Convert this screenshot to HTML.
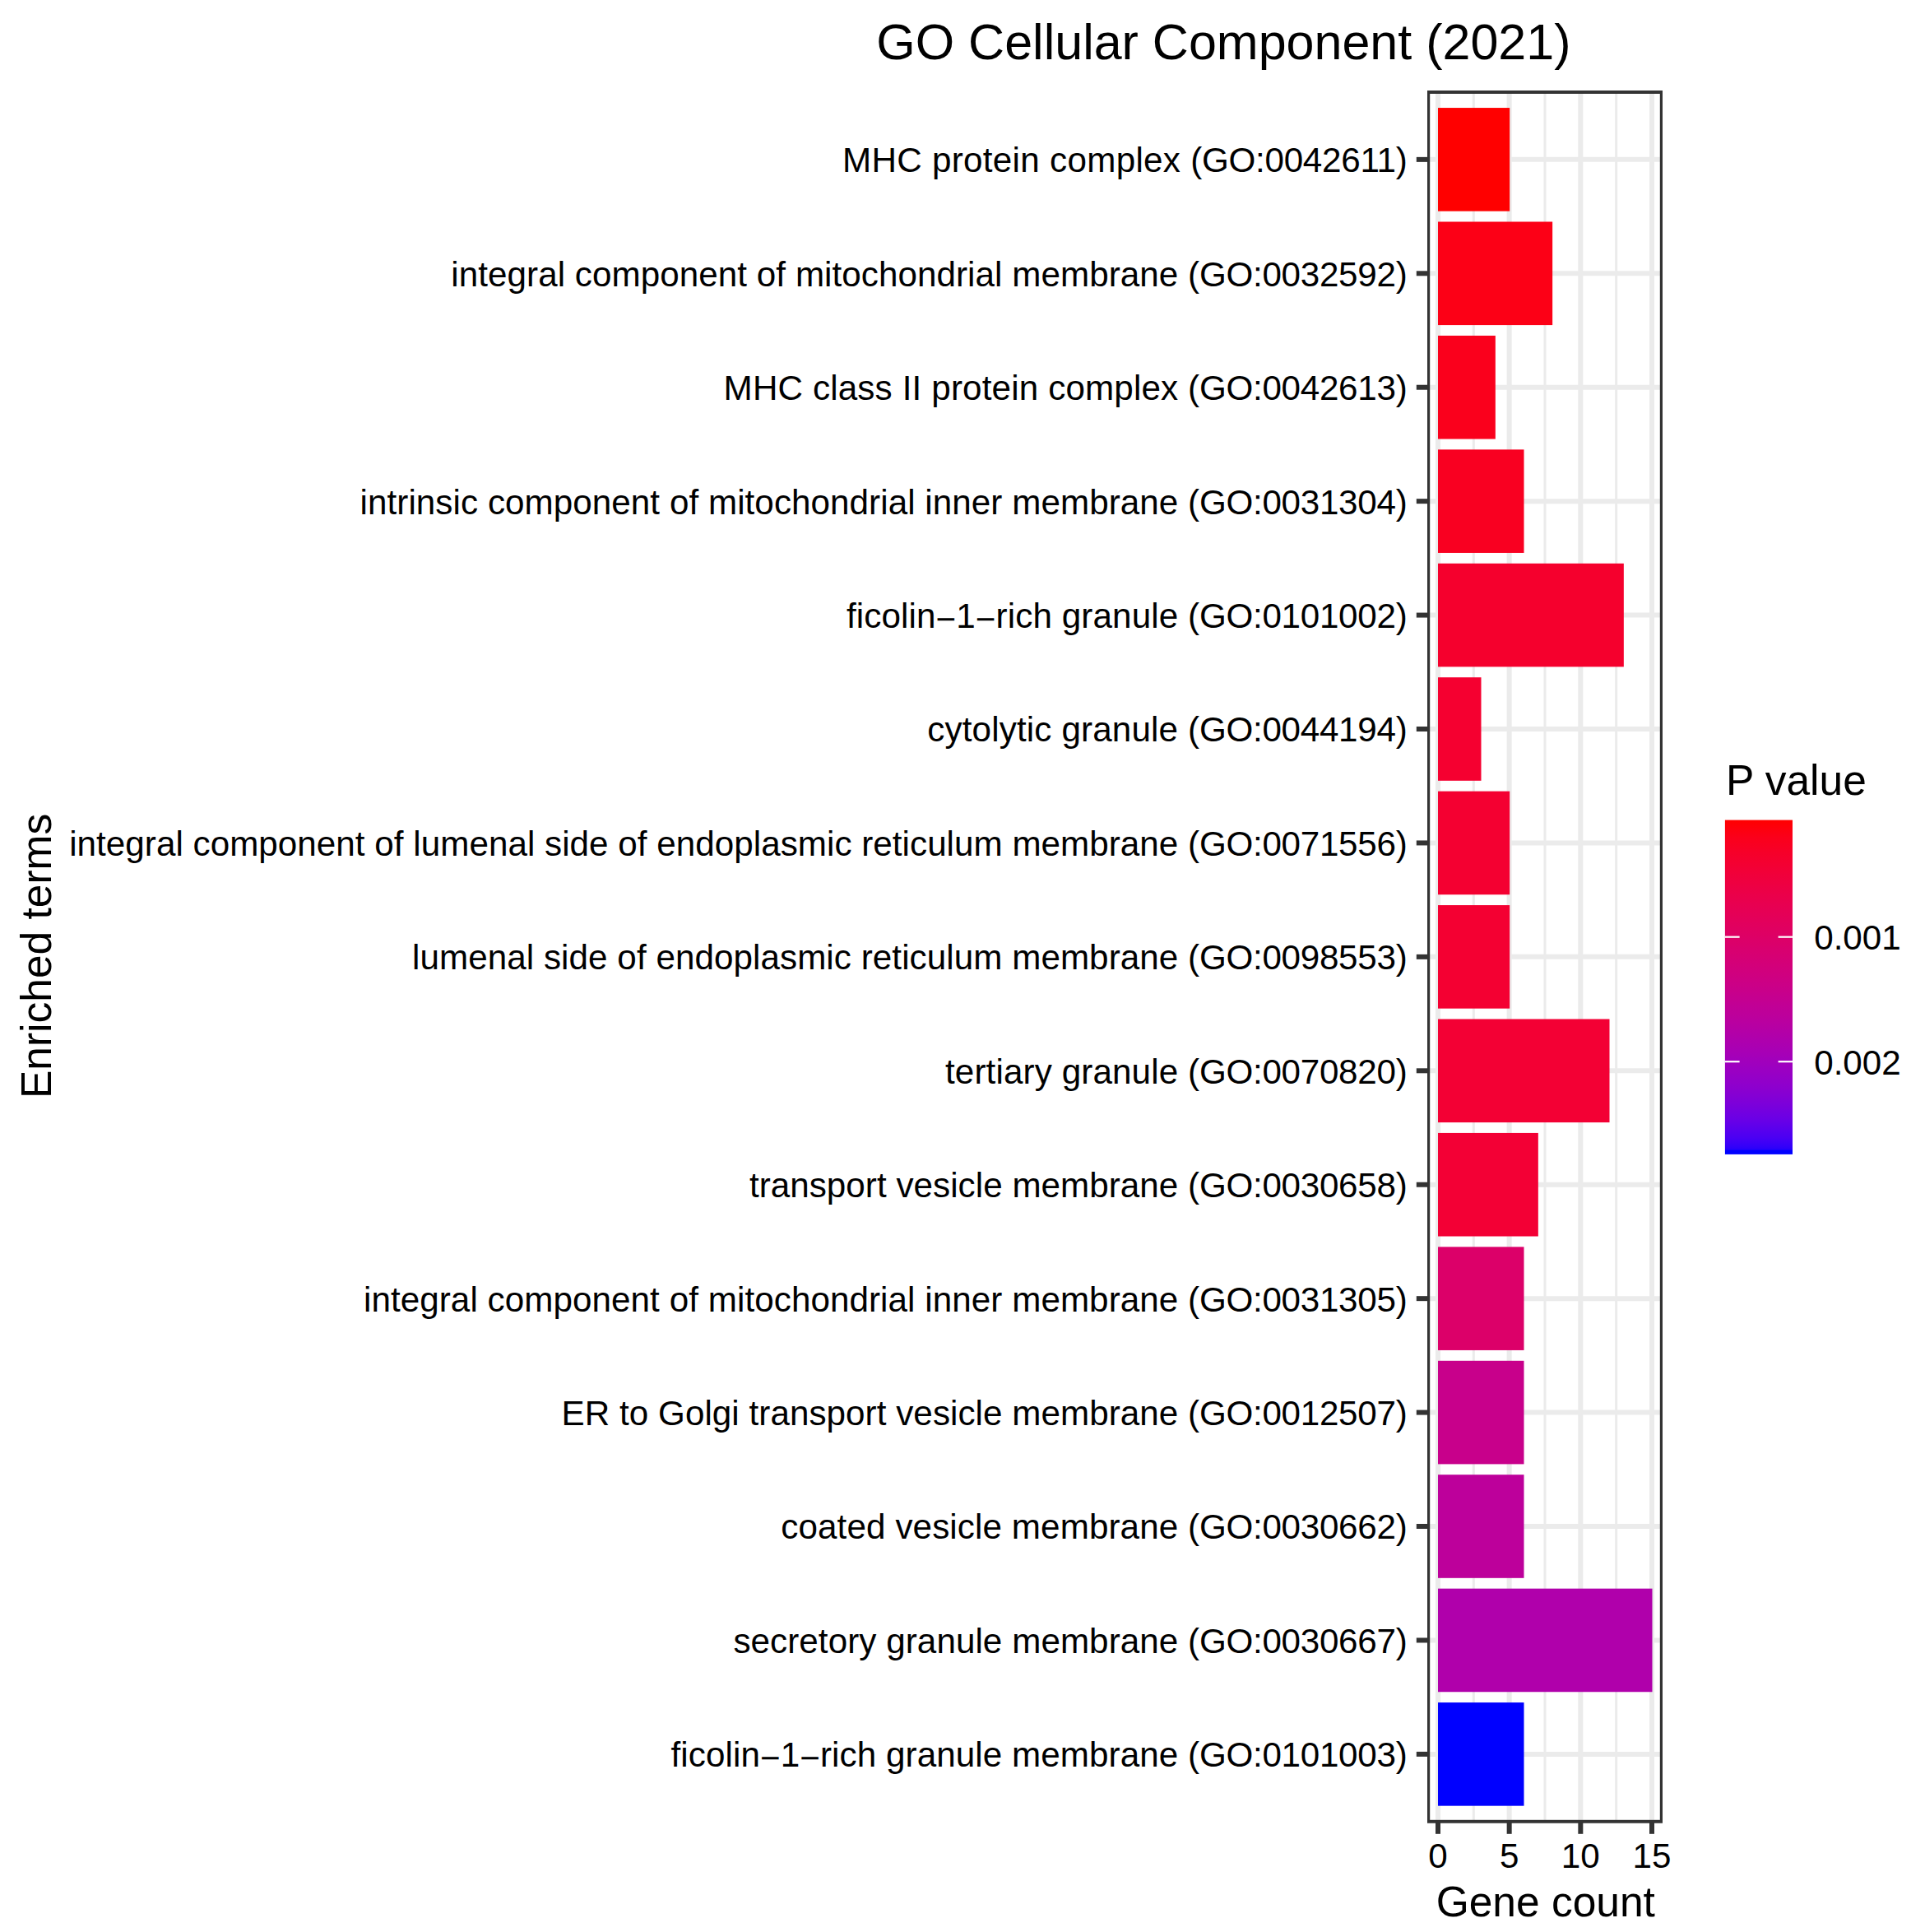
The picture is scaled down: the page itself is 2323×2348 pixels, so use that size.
<!DOCTYPE html>
<html lang="en"><head><meta charset="utf-8"><title>GO Cellular Component (2021)</title>
<style>html,body{margin:0;padding:0;background:#fff}body{width:2323px;height:2348px;overflow:hidden}svg{display:block}text{font-family:"Liberation Sans",Arial,Helvetica,sans-serif;fill:#000}.ax{font-size:42.20px;fill:#000}.tt{font-size:51.50px}.ti{font-size:61.00px}</style></head><body>
<svg width="2323" height="2348" viewBox="0 0 2323 2348">
<rect x="0" y="0" width="2323" height="2348" fill="#fff"/>
<defs><clipPath id="pc"><rect x="1735.00" y="110" width="286.00" height="2105.8"/></clipPath><linearGradient id="cb" x1="0" y1="0" x2="0" y2="1">
<stop offset="0.00" stop-color="#FF0000"/>
<stop offset="0.05" stop-color="#FB001A"/>
<stop offset="0.10" stop-color="#F6002A"/>
<stop offset="0.15" stop-color="#F20037"/>
<stop offset="0.20" stop-color="#ED0044"/>
<stop offset="0.25" stop-color="#E80050"/>
<stop offset="0.30" stop-color="#E3005B"/>
<stop offset="0.35" stop-color="#DD0066"/>
<stop offset="0.40" stop-color="#D70072"/>
<stop offset="0.45" stop-color="#D1007D"/>
<stop offset="0.50" stop-color="#CA0088"/>
<stop offset="0.55" stop-color="#C20094"/>
<stop offset="0.60" stop-color="#BA009F"/>
<stop offset="0.65" stop-color="#B000AB"/>
<stop offset="0.70" stop-color="#A600B7"/>
<stop offset="0.75" stop-color="#9A00C3"/>
<stop offset="0.80" stop-color="#8D00CE"/>
<stop offset="0.85" stop-color="#7C00DA"/>
<stop offset="0.90" stop-color="#6800E7"/>
<stop offset="0.95" stop-color="#4B00F3"/>
<stop offset="0.975" stop-color="#3500F9"/>
<stop offset="0.985" stop-color="#2800FB"/>
<stop offset="0.989" stop-color="#0000FF"/>
<stop offset="1" stop-color="#0000FF"/>
</linearGradient></defs>
<g clip-path="url(#pc)">
<line x1="1791.33" y1="110.80" x2="1791.33" y2="2215.00" stroke="#ebebeb" stroke-width="3.00"/>
<line x1="1878.00" y1="110.80" x2="1878.00" y2="2215.00" stroke="#ebebeb" stroke-width="3.00"/>
<line x1="1964.66" y1="110.80" x2="1964.66" y2="2215.00" stroke="#ebebeb" stroke-width="3.00"/>
<line x1="1748.00" y1="110.80" x2="1748.00" y2="2215.00" stroke="#ebebeb" stroke-width="6.00"/>
<line x1="1834.66" y1="110.80" x2="1834.66" y2="2215.00" stroke="#ebebeb" stroke-width="6.00"/>
<line x1="1921.33" y1="110.80" x2="1921.33" y2="2215.00" stroke="#ebebeb" stroke-width="6.00"/>
<line x1="2007.99" y1="110.80" x2="2007.99" y2="2215.00" stroke="#ebebeb" stroke-width="6.00"/>
<line x1="1735.00" y1="193.86" x2="2021.00" y2="193.86" stroke="#ebebeb" stroke-width="6.00"/>
<line x1="1735.00" y1="332.29" x2="2021.00" y2="332.29" stroke="#ebebeb" stroke-width="6.00"/>
<line x1="1735.00" y1="470.72" x2="2021.00" y2="470.72" stroke="#ebebeb" stroke-width="6.00"/>
<line x1="1735.00" y1="609.15" x2="2021.00" y2="609.15" stroke="#ebebeb" stroke-width="6.00"/>
<line x1="1735.00" y1="747.58" x2="2021.00" y2="747.58" stroke="#ebebeb" stroke-width="6.00"/>
<line x1="1735.00" y1="886.01" x2="2021.00" y2="886.01" stroke="#ebebeb" stroke-width="6.00"/>
<line x1="1735.00" y1="1024.44" x2="2021.00" y2="1024.44" stroke="#ebebeb" stroke-width="6.00"/>
<line x1="1735.00" y1="1162.87" x2="2021.00" y2="1162.87" stroke="#ebebeb" stroke-width="6.00"/>
<line x1="1735.00" y1="1301.30" x2="2021.00" y2="1301.30" stroke="#ebebeb" stroke-width="6.00"/>
<line x1="1735.00" y1="1439.73" x2="2021.00" y2="1439.73" stroke="#ebebeb" stroke-width="6.00"/>
<line x1="1735.00" y1="1578.16" x2="2021.00" y2="1578.16" stroke="#ebebeb" stroke-width="6.00"/>
<line x1="1735.00" y1="1716.59" x2="2021.00" y2="1716.59" stroke="#ebebeb" stroke-width="6.00"/>
<line x1="1735.00" y1="1855.02" x2="2021.00" y2="1855.02" stroke="#ebebeb" stroke-width="6.00"/>
<line x1="1735.00" y1="1993.45" x2="2021.00" y2="1993.45" stroke="#ebebeb" stroke-width="6.00"/>
<line x1="1735.00" y1="2131.88" x2="2021.00" y2="2131.88" stroke="#ebebeb" stroke-width="6.00"/>
<rect x="1748.00" y="131.06" width="87.16" height="125.60" fill="#FF0000"/>
<rect x="1748.00" y="269.49" width="139.16" height="125.60" fill="#FC0016"/>
<rect x="1748.00" y="407.92" width="69.83" height="125.60" fill="#FA001C"/>
<rect x="1748.00" y="546.35" width="104.50" height="125.60" fill="#F90021"/>
<rect x="1748.00" y="684.78" width="225.83" height="125.60" fill="#F5002D"/>
<rect x="1748.00" y="823.21" width="52.50" height="125.60" fill="#F50030"/>
<rect x="1748.00" y="961.64" width="87.16" height="125.60" fill="#F40031"/>
<rect x="1748.00" y="1100.07" width="87.16" height="125.60" fill="#F40032"/>
<rect x="1748.00" y="1238.50" width="208.50" height="125.60" fill="#F30034"/>
<rect x="1748.00" y="1376.93" width="121.83" height="125.60" fill="#F30035"/>
<rect x="1748.00" y="1515.36" width="104.50" height="125.60" fill="#DC0069"/>
<rect x="1748.00" y="1653.79" width="104.50" height="125.60" fill="#C8008B"/>
<rect x="1748.00" y="1792.22" width="104.50" height="125.60" fill="#BD009B"/>
<rect x="1748.00" y="1930.65" width="260.50" height="125.60" fill="#B000AB"/>
<rect x="1748.00" y="2069.08" width="104.50" height="125.60" fill="#0000FF"/>
<rect x="1735.00" y="110.80" width="286.00" height="2104.20" fill="none" stroke="#333" stroke-width="6.40"/>
</g>
<line x1="1721.80" y1="193.86" x2="1735.00" y2="193.86" stroke="#333" stroke-width="6.00"/>
<line x1="1721.80" y1="332.29" x2="1735.00" y2="332.29" stroke="#333" stroke-width="6.00"/>
<line x1="1721.80" y1="470.72" x2="1735.00" y2="470.72" stroke="#333" stroke-width="6.00"/>
<line x1="1721.80" y1="609.15" x2="1735.00" y2="609.15" stroke="#333" stroke-width="6.00"/>
<line x1="1721.80" y1="747.58" x2="1735.00" y2="747.58" stroke="#333" stroke-width="6.00"/>
<line x1="1721.80" y1="886.01" x2="1735.00" y2="886.01" stroke="#333" stroke-width="6.00"/>
<line x1="1721.80" y1="1024.44" x2="1735.00" y2="1024.44" stroke="#333" stroke-width="6.00"/>
<line x1="1721.80" y1="1162.87" x2="1735.00" y2="1162.87" stroke="#333" stroke-width="6.00"/>
<line x1="1721.80" y1="1301.30" x2="1735.00" y2="1301.30" stroke="#333" stroke-width="6.00"/>
<line x1="1721.80" y1="1439.73" x2="1735.00" y2="1439.73" stroke="#333" stroke-width="6.00"/>
<line x1="1721.80" y1="1578.16" x2="1735.00" y2="1578.16" stroke="#333" stroke-width="6.00"/>
<line x1="1721.80" y1="1716.59" x2="1735.00" y2="1716.59" stroke="#333" stroke-width="6.00"/>
<line x1="1721.80" y1="1855.02" x2="1735.00" y2="1855.02" stroke="#333" stroke-width="6.00"/>
<line x1="1721.80" y1="1993.45" x2="1735.00" y2="1993.45" stroke="#333" stroke-width="6.00"/>
<line x1="1721.80" y1="2131.88" x2="1735.00" y2="2131.88" stroke="#333" stroke-width="6.00"/>
<line x1="1748.00" y1="2215.00" x2="1748.00" y2="2228.80" stroke="#333" stroke-width="6.00"/>
<line x1="1834.66" y1="2215.00" x2="1834.66" y2="2228.80" stroke="#333" stroke-width="6.00"/>
<line x1="1921.33" y1="2215.00" x2="1921.33" y2="2228.80" stroke="#333" stroke-width="6.00"/>
<line x1="2007.99" y1="2215.00" x2="2007.99" y2="2228.80" stroke="#333" stroke-width="6.00"/>
<text class="ax" x="1710.42" y="209.26" text-anchor="end"><tspan style="letter-spacing:0.295px">MHC protein complex </tspan><tspan style="letter-spacing:-0.283px">(GO:0042611)</tspan></text>
<text class="ax" x="1710.42" y="347.69" text-anchor="end"><tspan style="letter-spacing:0.053px">integral component of mitochondrial membrane </tspan><tspan style="letter-spacing:-0.283px">(GO:0032592)</tspan></text>
<text class="ax" x="1710.42" y="486.12" text-anchor="end"><tspan style="letter-spacing:0.144px">MHC class II protein complex </tspan><tspan style="letter-spacing:-0.283px">(GO:0042613)</tspan></text>
<text class="ax" x="1710.42" y="624.55" text-anchor="end"><tspan style="letter-spacing:0.056px">intrinsic component of mitochondrial inner membrane </tspan><tspan style="letter-spacing:-0.283px">(GO:0031304)</tspan></text>
<text class="ax" x="1710.42" y="762.98" text-anchor="end"><tspan style="letter-spacing:0.107px">ficolin<tspan dy="4.1">−</tspan><tspan dy="-4.1">1</tspan><tspan dy="4.1">−</tspan><tspan dy="-4.1">rich granule </tspan></tspan><tspan style="letter-spacing:-0.283px">(GO:0101002)</tspan></text>
<text class="ax" x="1710.42" y="901.41" text-anchor="end"><tspan style="letter-spacing:0.151px">cytolytic granule </tspan><tspan style="letter-spacing:-0.283px">(GO:0044194)</tspan></text>
<text class="ax" x="1710.42" y="1039.84" text-anchor="end"><tspan style="letter-spacing:0.032px">integral component of lumenal side of endoplasmic reticulum membrane </tspan><tspan style="letter-spacing:-0.283px">(GO:0071556)</tspan></text>
<text class="ax" x="1710.42" y="1178.27" text-anchor="end"><tspan style="letter-spacing:0.060px">lumenal side of endoplasmic reticulum membrane </tspan><tspan style="letter-spacing:-0.283px">(GO:0098553)</tspan></text>
<text class="ax" x="1710.42" y="1316.70" text-anchor="end"><tspan style="letter-spacing:0.118px">tertiary granule </tspan><tspan style="letter-spacing:-0.283px">(GO:0070820)</tspan></text>
<text class="ax" x="1710.42" y="1455.13" text-anchor="end"><tspan style="letter-spacing:0.036px">transport vesicle membrane </tspan><tspan style="letter-spacing:-0.283px">(GO:0030658)</tspan></text>
<text class="ax" x="1710.42" y="1593.56" text-anchor="end"><tspan style="letter-spacing:0.062px">integral component of mitochondrial inner membrane </tspan><tspan style="letter-spacing:-0.283px">(GO:0031305)</tspan></text>
<text class="ax" x="1710.42" y="1731.99" text-anchor="end"><tspan style="letter-spacing:0.049px">ER to Golgi transport vesicle membrane </tspan><tspan style="letter-spacing:-0.283px">(GO:0012507)</tspan></text>
<text class="ax" x="1710.42" y="1870.42" text-anchor="end"><tspan style="letter-spacing:0.099px">coated vesicle membrane </tspan><tspan style="letter-spacing:-0.283px">(GO:0030662)</tspan></text>
<text class="ax" x="1710.42" y="2008.85" text-anchor="end"><tspan style="letter-spacing:0.062px">secretory granule membrane </tspan><tspan style="letter-spacing:-0.283px">(GO:0030667)</tspan></text>
<text class="ax" x="1710.42" y="2147.28" text-anchor="end"><tspan style="letter-spacing:0.075px">ficolin<tspan dy="4.1">−</tspan><tspan dy="-4.1">1</tspan><tspan dy="4.1">−</tspan><tspan dy="-4.1">rich granule membrane </tspan></tspan><tspan style="letter-spacing:-0.283px">(GO:0101003)</tspan></text>
<text class="ax" x="1748.00" y="2270.00" text-anchor="middle">0</text>
<text class="ax" x="1834.66" y="2270.00" text-anchor="middle">5</text>
<text class="ax" x="1921.33" y="2270.00" text-anchor="middle">10</text>
<text class="ax" x="2007.99" y="2270.00" text-anchor="middle">15</text>
<text class="tt" x="1878.80" y="2328.50" text-anchor="middle">Gene count</text>
<text class="tt" transform="translate(62.30,1161.90) rotate(-90)" text-anchor="middle">Enriched terms</text>
<text class="ti" x="1487.40" y="72.10" text-anchor="middle">GO Cellular Component (2021)</text>
<text class="tt" x="2098.00" y="965.80">P value</text>
<rect x="2096.90" y="996.60" width="82.10" height="406.30" fill="url(#cb)"/>
<line x1="2096.9" y1="1138.70" x2="2114.6" y2="1138.70" stroke="#fff" stroke-width="2.2"/>
<line x1="2161.6" y1="1138.70" x2="2179" y2="1138.70" stroke="#fff" stroke-width="2.2"/>
<line x1="2096.9" y1="1290.20" x2="2114.6" y2="1290.20" stroke="#fff" stroke-width="2.2"/>
<line x1="2161.6" y1="1290.20" x2="2179" y2="1290.20" stroke="#fff" stroke-width="2.2"/>
<text class="ax" x="2205.2" y="1154.20">0.001</text>
<text class="ax" x="2205.2" y="1305.70">0.002</text>
</svg></body></html>
